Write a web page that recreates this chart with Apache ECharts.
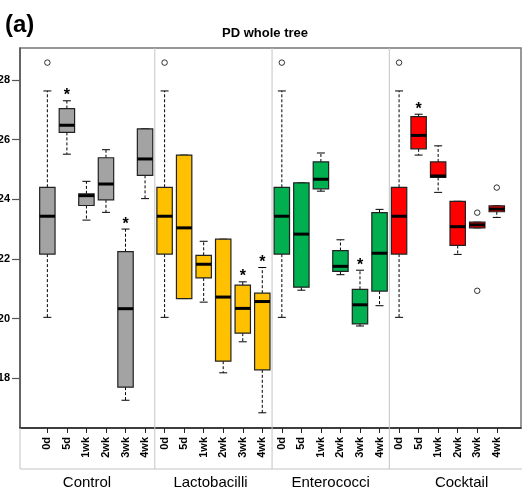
<!DOCTYPE html>
<html>
<head>
  <script src="https://cdn.jsdelivr.net/npm/echarts@6.0.0/dist/echarts.min.js"></script>
  <style>
    body {
      margin: 0;
      padding: 0;
      background-color: white;
    }
    #main {
      width: 522px;
      height: 495px;
    }
  </style>
  <title>PD whole tree</title>
</head>
<body>
<div id="main"></div>
<script>
  // groups and timepoints, 6 boxes per group, x position = 1..24
  var groups = ['Control', 'Lactobacilli', 'Enterococci', 'Cocktail'];
  var timepoints = ['0d', '5d', '1wk', '2wk', '3wk', '4wk'];
  var groupColors = ['#A3A3A3', '#FFC000', '#00B050', '#FF0000'];

  // box stats
  var whiskerLow = [
    20.04, 25.51, 23.30, 23.56, 17.26, 24.02,
    20.04, 20.67, 20.55, 18.18, 19.22, 16.84,
    20.04, 20.95, 24.27, 21.47, 19.75, 20.43,
    20.04, 25.48, 24.23, 22.15, 23.04, 23.39
  ];
  var boxLow = [
    22.16, 26.24, 23.79, 23.98, 17.70, 24.80,
    22.16, 20.67, 21.36, 18.57, 19.51, 18.28,
    22.16, 21.05, 24.35, 21.58, 19.82, 20.92,
    22.16, 25.69, 24.73, 22.45, 23.04, 23.58
  ];
  var median = [
    23.43, 26.48, 24.12, 24.51, 20.33, 25.35,
    23.43, 23.04, 21.82, 20.72, 20.34, 20.57,
    23.43, 22.83, 24.67, 21.75, 20.46, 22.19,
    23.43, 26.14, 24.78, 23.08, 23.14, 23.67
  ];
  var boxHigh = [
    24.40, 27.04, 24.18, 25.39, 22.24, 26.36,
    24.40, 25.48, 22.12, 22.66, 21.12, 20.85,
    24.40, 24.55, 25.25, 22.28, 20.98, 23.55,
    24.40, 26.77, 25.25, 23.93, 23.23, 23.78
  ];
  var whiskerHigh = [
    27.63, 27.30, 24.60, 25.66, 23.00, 26.36,
    27.63, 25.48, 22.59, 22.66, 21.23, 21.71,
    27.63, 24.55, 25.55, 22.64, 21.62, 23.66,
    27.63, 26.85, 25.79, 23.93, 23.23, 23.78
  ];
  var outliers = [[1, 28.58], [7, 28.58], [13, 28.58], [19, 28.58], [23, 23.55], [23, 20.93], [24, 24.39]];
  var starred = [2, 5, 11, 12, 17, 20];
  var yTicks = [18, 20, 22, 24, 26, 28];

  var yMin = 16.33, yMax = 29.07;
  var xMin = -0.4, xMax = 25.24;
  var groupLabelPos = [3.03, 9.35, 15.5, 22.2];
  var separators = [6.5, 12.5, 18.5];

  var positions = [];
  var boxData = [];
  for (var i = 0; i < 24; i++) {
    positions.push(i + 1);
    boxData.push([i + 1, whiskerLow[i], boxLow[i], median[i], boxHigh[i], whiskerHigh[i], Math.floor(i / 6)]);
  }

  var myChart = echarts.init(document.getElementById('main'));

  myChart.setOption({
    animation: false,
    title: [
      {
        text: 'PD whole tree',
        left: 260, top: 17, textAlign: 'center',
        textStyle: {fontFamily: 'Liberation Sans', fontWeight: 'bold', fontSize: 13, color: '#000'}
      },
      {
        text: '(a)',
        left: 0, top: 0,
        textStyle: {fontFamily: 'Liberation Sans', fontWeight: 'bold', fontSize: 24, color: '#000'}
      }
    ],
    grid: {
      left: 20, right: 1, top: 48, bottom: 67,
      containLabel: false,
      outerBoundsMode: 'none',
      show: true, borderColor: '#777', borderWidth: 1.5
    },
    xAxis: {
      type: 'value',
      min: xMin, max: xMax,
      splitLine: {show: false},
      axisLine: {show: true, onZero: false, lineStyle: {color: '#222', width: 1.5}},
      axisTick: {show: true, length: 5, customValues: positions, lineStyle: {color: '#222'}},
      axisLabel: {
        customValues: positions,
        rotate: 90, margin: 9,
        fontFamily: 'Liberation Sans', fontWeight: 'bold', fontSize: 11, color: '#000',
        formatter: function (v) { return timepoints[(Math.round(v) - 1) % 6]; }
      }
    },
    yAxis: {
      type: 'value',
      min: yMin, max: yMax,
      splitLine: {show: false},
      axisLine: {show: true, onZero: false, lineStyle: {color: '#555', width: 1.5}},
      axisTick: {show: true, length: 8, customValues: yTicks, lineStyle: {color: '#555', width: 1.2}},
      axisLabel: {
        customValues: yTicks, margin: 10,
        fontFamily: 'Liberation Sans', fontWeight: 'bold', fontSize: 11, color: '#000'
      }
    },
    series: [
      {
        // frame below the axis and group separators
        type: 'custom',
        clip: false,
        silent: true,
        data: separators,
        renderItem: function (params, api) {
          var top = api.coord([api.value(0), yMax]);
          var bot = api.coord([api.value(0), yMin]);
          var children = [{
            type: 'line',
            shape: {x1: top[0], y1: top[1], x2: bot[0], y2: bot[1] + 41},
            style: {stroke: '#C4C4C4', lineWidth: 1}
          }];
          if (params.dataIndex === 0) {
            var l = api.coord([xMin, yMin]);
            var r = api.coord([xMax, yMin]);
            children.push({
              type: 'polyline',
              shape: {points: [[l[0], l[1]], [l[0], l[1] + 41], [r[0] + 2, l[1] + 41]]},
              style: {stroke: '#C4C4C4', lineWidth: 1, fill: null}
            });
          }
          return {type: 'group', children: children};
        }
      },
      {
        type: 'custom',
        clip: false,
        data: boxData,
        renderItem: function (params, api) {
          var x = api.coord([api.value(0), 0])[0];
          var wl = api.coord([0, api.value(1)])[1];
          var q1 = api.coord([0, api.value(2)])[1];
          var md = api.coord([0, api.value(3)])[1];
          var q3 = api.coord([0, api.value(4)])[1];
          var wh = api.coord([0, api.value(5)])[1];
          var color = groupColors[api.value(6)];
          var hw = 7.7, cw = 4;
          var dash = {stroke: '#000', lineWidth: 1, lineDash: [3, 2]};
          var solid = {stroke: '#000', lineWidth: 1};
          return {
            type: 'group',
            children: [
              {type: 'line', shape: {x1: x, y1: q3, x2: x, y2: wh}, style: dash},
              {type: 'line', shape: {x1: x, y1: q1, x2: x, y2: wl}, style: dash},
              {type: 'line', shape: {x1: x - cw, y1: wh, x2: x + cw, y2: wh}, style: solid},
              {type: 'line', shape: {x1: x - cw, y1: wl, x2: x + cw, y2: wl}, style: solid},
              {type: 'rect', shape: {x: x - hw, y: q3, width: hw * 2, height: Math.max(q1 - q3, 1)},
                style: {fill: color, stroke: '#222', lineWidth: 1.2}},
              {type: 'line', shape: {x1: x - hw, y1: md, x2: x + hw, y2: md}, style: {stroke: '#000', lineWidth: 3}}
            ]
          };
        }
      },
      {
        type: 'scatter',
        data: outliers,
        symbol: 'circle',
        symbolSize: 5.5,
        itemStyle: {color: '#fff', borderColor: '#000', borderWidth: 1},
        z: 5
      },
      {
        // significance stars
        type: 'custom',
        clip: false,
        data: starred,
        renderItem: function (params, api) {
          var p = api.value(0);
          var c = api.coord([p, whiskerHigh[p - 1]]);
          return {
            type: 'text',
            x: c[0], y: c[1] + 9,
            style: {
              text: '*', fill: '#000',
              font: 'bold 16px "Liberation Sans"',
              align: 'center', verticalAlign: 'bottom'
            }
          };
        }
      },
      {
        // group names under the axis
        type: 'custom',
        clip: false,
        data: groupLabelPos,
        renderItem: function (params, api) {
          var c = api.coord([api.value(0), yMin]);
          return {
            type: 'text',
            x: c[0], y: c[1] + 55,
            style: {
              text: groups[params.dataIndex], fill: '#000',
              font: '15px "Liberation Sans"',
              align: 'center', verticalAlign: 'middle'
            }
          };
        }
      }
    ]
  });
</script>
</body>
</html>
